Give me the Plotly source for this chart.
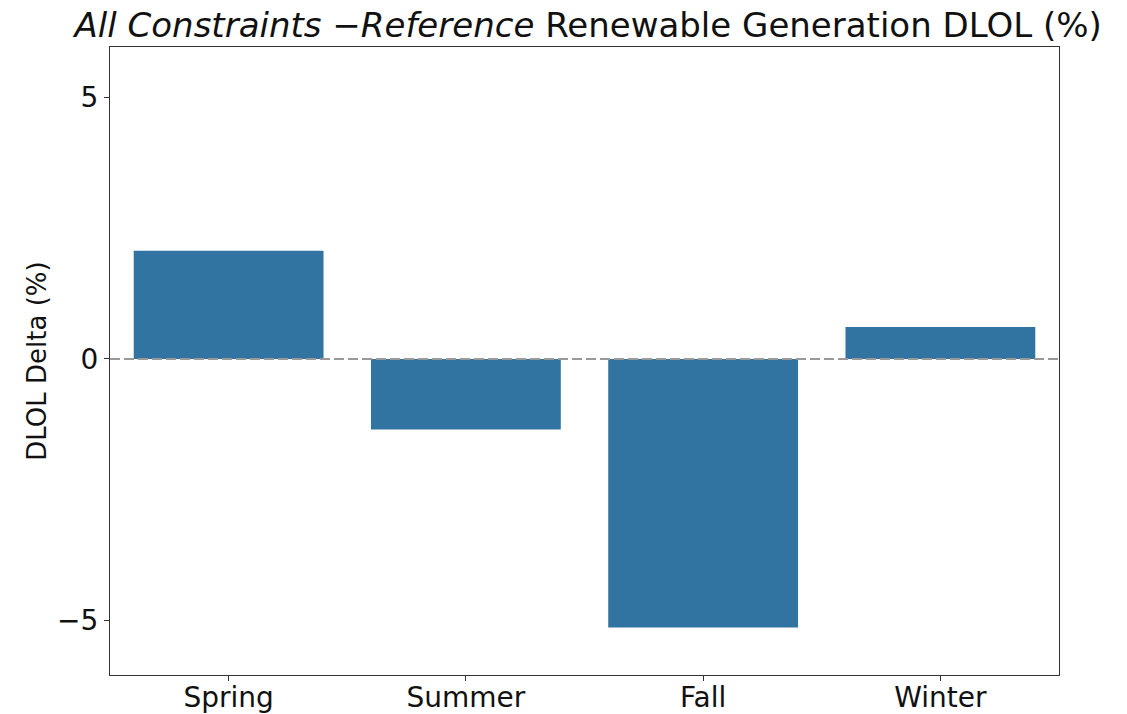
import plotly.graph_objects as go

seasons = ["Spring", "Summer", "Fall", "Winter"]
dlol_delta = [2.07, -1.35, -5.14, 0.61]
y_ticks = [-5, 0, 5]
y_tick_text = ["\u22125", "0", "5"]

bar_color = "#3274a1"
font_family = "DejaVu Sans"

W, H = 1119, 706

fig = go.Figure()
fig.add_trace(go.Bar(
    x=seasons, y=dlol_delta, marker_color=bar_color,
    marker_line_width=0, width=0.8,
))

fig.add_shape(type="line", xref="paper", x0=0, x1=1, yref="y", y0=0, y1=0,
              line=dict(color="#999999", width=2, dash="10px,4px"), layer="above")

fig.update_layout(
    width=W, height=H,
    margin=dict(l=102, r=68, t=39, b=39),
    paper_bgcolor="white", plot_bgcolor="white",
    font=dict(family=font_family, color="#111111", size=28),
    title=dict(
        text="<i>All Constraints</i> \u2212<i>Reference</i> Renewable Generation DLOL (%)",
        x=0.5185, xanchor="center", y=1 - 17 / H, yanchor="middle",
        font=dict(family=font_family, size=34, color="#111111"),
    ),
    showlegend=False,
)
fig.update_xaxes(
    range=[-0.5, 3.5], showline=True, linecolor="#333333", linewidth=1, mirror=True,
    ticks="outside", ticklen=5, tickcolor="#333333", showgrid=False,
    tickfont=dict(size=28), automargin=False, ticklabelstandoff=-8,
)
fig.update_yaxes(
    range=[-6.05, 5.97], tickvals=y_ticks, ticktext=y_tick_text,
    showline=True, linecolor="#333333", linewidth=1, mirror=True,
    ticks="outside", ticklen=5, tickcolor="#333333", showgrid=False, zeroline=False,
    tickfont=dict(size=28), automargin=False,
    title=dict(text="DLOL Delta (%)", font=dict(size=26), standoff=3),
)

fig.write_html("out.html")
